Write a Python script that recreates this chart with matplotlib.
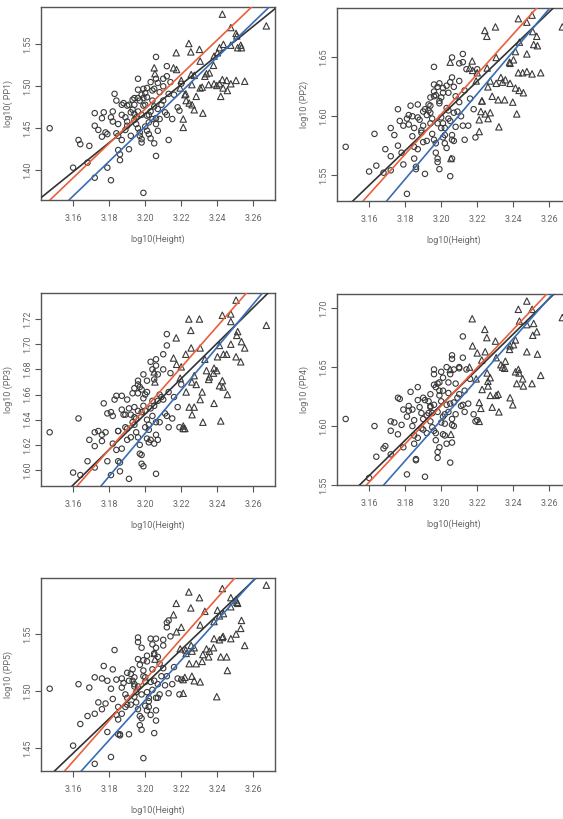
import numpy as np
import matplotlib.pyplot as plt

plt.rcParams['font.family'] = ['Liberation Sans Narrow', 'Roboto', 'DejaVu Sans']

# heights shared by all five panels (log10 scale)
circle_height = [
    3.147, 3.160, 3.163, 3.164, 3.168, 3.169, 3.172, 3.172, 3.172, 3.174,
    3.176, 3.177, 3.176, 3.178, 3.179, 3.179, 3.181, 3.181, 3.182, 3.183,
    3.184, 3.185, 3.184, 3.185, 3.185, 3.186, 3.186, 3.187, 3.187, 3.188,
    3.189, 3.190, 3.190, 3.190, 3.191, 3.192, 3.193, 3.193, 3.194, 3.194,
    3.194, 3.195, 3.196, 3.196, 3.196, 3.196, 3.197, 3.197, 3.198, 3.198,
    3.198, 3.198, 3.199, 3.199, 3.199, 3.200, 3.200, 3.201, 3.201, 3.202,
    3.202, 3.202, 3.203, 3.203, 3.204, 3.204, 3.205, 3.205, 3.206, 3.206,
    3.206, 3.206, 3.206, 3.207, 3.207, 3.207, 3.208, 3.209, 3.210, 3.210,
    3.211, 3.212, 3.212, 3.212, 3.213, 3.214, 3.215, 3.216, 3.218, 3.219,
    3.220, 3.201, 3.192, 3.195, 3.200, 3.203, 3.204, 3.199, 3.189, 3.187,
    3.182, 3.210, 3.213, 3.197, 3.194, 3.208, 3.201, 3.196, 3.205, 3.191,
]
triangle_height = [
    3.2428, 3.2672, 3.2475, 3.2504, 3.2508, 3.2530, 3.2534, 3.2513, 3.2475, 3.2434,
    3.2412, 3.2401, 3.2382, 3.2242, 3.2253, 3.2301, 3.2305, 3.2172, 3.2157, 3.2174,
    3.2050, 3.2054, 3.2200, 3.2194, 3.2225, 3.2220, 3.2255, 3.2272, 3.2259, 3.2283,
    3.2305, 3.2320, 3.2260, 3.2272, 3.2211, 3.2211, 3.2331, 3.2340, 3.2356, 3.2379,
    3.2428, 3.2412, 3.2432, 3.2452, 3.2456, 3.2475, 3.2504, 3.2552, 3.2382, 3.2397,
    3.2419, 3.2352, 3.2316, 3.2227, 3.2244,
]

circle_pp1 = [
    1.450, 1.403, 1.436, 1.431, 1.409, 1.429, 1.468, 1.453, 1.391, 1.448,
    1.462, 1.469, 1.440, 1.445, 1.443, 1.403, 1.463, 1.388, 1.458, 1.491,
    1.483, 1.455, 1.444, 1.441, 1.424, 1.419, 1.412, 1.478, 1.466, 1.480,
    1.463, 1.477, 1.458, 1.453, 1.425, 1.469, 1.472, 1.484, 1.486, 1.478,
    1.460, 1.455, 1.509, 1.496, 1.450, 1.470, 1.445, 1.441, 1.490, 1.466,
    1.437, 1.433, 1.373, 1.497, 1.486, 1.492, 1.478, 1.465, 1.447, 1.466,
    1.457, 1.443, 1.438, 1.505, 1.495, 1.483, 1.476, 1.432, 1.535, 1.509,
    1.462, 1.455, 1.417, 1.504, 1.473, 1.447, 1.493, 1.478, 1.500, 1.509,
    1.469, 1.524, 1.512, 1.466, 1.436, 1.505, 1.461, 1.490, 1.475, 1.471,
    1.503, 1.487, 1.441, 1.463, 1.452, 1.470, 1.461, 1.477, 1.448, 1.436,
    1.470, 1.483, 1.491, 1.483, 1.467, 1.461, 1.498, 1.486, 1.497, 1.478,
]
circle_pp2 = [
    1.574, 1.553, 1.585, 1.558, 1.552, 1.572, 1.590, 1.566, 1.554, 1.584,
    1.606, 1.596, 1.575, 1.569, 1.592, 1.559, 1.598, 1.534, 1.593, 1.609,
    1.600, 1.590, 1.583, 1.574, 1.564, 1.557, 1.555, 1.610, 1.599, 1.597,
    1.586, 1.604, 1.592, 1.578, 1.551, 1.601, 1.610, 1.605, 1.616, 1.609,
    1.594, 1.585, 1.642, 1.627, 1.580, 1.617, 1.577, 1.569, 1.625, 1.594,
    1.564, 1.561, 1.555, 1.628, 1.613, 1.616, 1.599, 1.594, 1.582, 1.590,
    1.584, 1.577, 1.573, 1.626, 1.620, 1.605, 1.596, 1.549, 1.650, 1.633,
    1.584, 1.580, 1.564, 1.625, 1.603, 1.579, 1.617, 1.604, 1.630, 1.645,
    1.600, 1.653, 1.646, 1.592, 1.580, 1.640, 1.592, 1.615, 1.606, 1.582,
    1.640, 1.620, 1.579, 1.598, 1.590, 1.607, 1.598, 1.611, 1.588, 1.572,
    1.601, 1.612, 1.622, 1.618, 1.603, 1.591, 1.624, 1.621, 1.629, 1.606,
]
circle_pp3 = [
    1.630, 1.598, 1.641, 1.596, 1.607, 1.624, 1.630, 1.619, 1.602, 1.631,
    1.628, 1.653, 1.623, 1.630, 1.645, 1.607, 1.646, 1.596, 1.621, 1.656,
    1.659, 1.631, 1.616, 1.631, 1.607, 1.606, 1.599, 1.659, 1.648, 1.644,
    1.644, 1.656, 1.633, 1.624, 1.593, 1.644, 1.638, 1.661, 1.665, 1.650,
    1.636, 1.630, 1.668, 1.671, 1.626, 1.647, 1.620, 1.613, 1.664, 1.646,
    1.612, 1.605, 1.603, 1.676, 1.657, 1.660, 1.647, 1.640, 1.625, 1.636,
    1.632, 1.622, 1.624, 1.686, 1.680, 1.655, 1.651, 1.621, 1.688, 1.683,
    1.638, 1.628, 1.597, 1.676, 1.655, 1.624, 1.660, 1.658, 1.680, 1.692,
    1.645, 1.708, 1.699, 1.643, 1.634, 1.677, 1.641, 1.658, 1.650, 1.634,
    1.668, 1.662, 1.626, 1.641, 1.634, 1.649, 1.643, 1.651, 1.634, 1.617,
    1.643, 1.656, 1.662, 1.666, 1.642, 1.638, 1.671, 1.661, 1.672, 1.649,
]
circle_pp4 = [
    1.606, 1.556, 1.600, 1.574, 1.581, 1.583, 1.604, 1.596, 1.576, 1.603,
    1.624, 1.623, 1.593, 1.601, 1.614, 1.582, 1.608, 1.559, 1.613, 1.629,
    1.614, 1.605, 1.600, 1.592, 1.585, 1.571, 1.572, 1.633, 1.622, 1.616,
    1.611, 1.624, 1.606, 1.597, 1.557, 1.609, 1.611, 1.621, 1.627, 1.616,
    1.604, 1.599, 1.648, 1.644, 1.596, 1.618, 1.594, 1.588, 1.636, 1.612,
    1.578, 1.573, 1.582, 1.637, 1.626, 1.646, 1.621, 1.608, 1.593, 1.610,
    1.602, 1.592, 1.585, 1.650, 1.637, 1.628, 1.619, 1.569, 1.660, 1.657,
    1.606, 1.601, 1.586, 1.648, 1.620, 1.600, 1.636, 1.624, 1.649, 1.650,
    1.617, 1.676, 1.658, 1.618, 1.612, 1.648, 1.619, 1.640, 1.610, 1.604,
    1.605, 1.630, 1.594, 1.611, 1.603, 1.618, 1.612, 1.630, 1.598, 1.590,
    1.617, 1.627, 1.630, 1.633, 1.617, 1.610, 1.641, 1.635, 1.644, 1.622,
]
circle_pp5 = [
    1.502, 1.452, 1.506, 1.471, 1.478, 1.503, 1.512, 1.480, 1.436, 1.490,
    1.511, 1.522, 1.484, 1.489, 1.509, 1.464, 1.502, 1.442, 1.493, 1.536,
    1.510, 1.486, 1.479, 1.475, 1.462, 1.462, 1.461, 1.511, 1.503, 1.507,
    1.497, 1.516, 1.494, 1.488, 1.462, 1.515, 1.519, 1.509, 1.512, 1.506,
    1.495, 1.490, 1.547, 1.543, 1.484, 1.504, 1.478, 1.470, 1.538, 1.497,
    1.466, 1.476, 1.441, 1.527, 1.518, 1.512, 1.508, 1.499, 1.483, 1.494,
    1.491, 1.486, 1.479, 1.546, 1.541, 1.519, 1.509, 1.463, 1.546, 1.538,
    1.494, 1.483, 1.474, 1.530, 1.506, 1.494, 1.524, 1.513, 1.545, 1.540,
    1.505, 1.556, 1.560, 1.513, 1.498, 1.548, 1.506, 1.521, 1.511, 1.497,
    1.510, 1.526, 1.488, 1.499, 1.487, 1.508, 1.501, 1.513, 1.486, 1.480,
    1.519, 1.520, 1.562, 1.523, 1.504, 1.497, 1.531, 1.528, 1.533, 1.509,
]

triangle_pp1 = [
    1.586, 1.572, 1.570, 1.563, 1.560, 1.549, 1.546, 1.546, 1.549, 1.550,
    1.546, 1.540, 1.536, 1.551, 1.541, 1.544, 1.530, 1.540, 1.522, 1.520,
    1.522, 1.515, 1.507, 1.498, 1.491, 1.490, 1.514, 1.513, 1.502, 1.488,
    1.498, 1.468, 1.478, 1.472, 1.461, 1.451, 1.512, 1.515, 1.516, 1.525,
    1.508, 1.503, 1.498, 1.507, 1.495, 1.503, 1.507, 1.506, 1.503, 1.501,
    1.488, 1.502, 1.499, 1.483, 1.480,
]
triangle_pp2 = [
    1.683, 1.676, 1.680, 1.686, 1.672, 1.668, 1.660, 1.661, 1.653, 1.663,
    1.655, 1.648, 1.645, 1.673, 1.668, 1.676, 1.650, 1.647, 1.641, 1.639,
    1.646, 1.564, 1.637, 1.630, 1.613, 1.604, 1.641, 1.630, 1.625, 1.617,
    1.628, 1.591, 1.598, 1.603, 1.587, 1.597, 1.633, 1.629, 1.631, 1.646,
    1.637, 1.624, 1.622, 1.637, 1.620, 1.638, 1.636, 1.637, 1.628, 1.612,
    1.602, 1.614, 1.614, 1.613, 1.602,
]
triangle_pp3 = [
    1.723, 1.715, 1.724, 1.735, 1.707, 1.686, 1.702, 1.710, 1.718, 1.692,
    1.699, 1.690, 1.681, 1.720, 1.711, 1.720, 1.697, 1.705, 1.689, 1.684,
    1.678, 1.670, 1.682, 1.673, 1.692, 1.633, 1.697, 1.675, 1.670, 1.668,
    1.656, 1.638, 1.644, 1.650, 1.633, 1.635, 1.688, 1.679, 1.674, 1.677,
    1.671, 1.667, 1.666, 1.692, 1.660, 1.700, 1.690, 1.697, 1.653, 1.679,
    1.639, 1.672, 1.662, 1.662, 1.650,
]
triangle_pp4 = [
    1.699, 1.692, 1.706, 1.699, 1.677, 1.680, 1.661, 1.687, 1.686, 1.689,
    1.673, 1.669, 1.668, 1.682, 1.675, 1.672, 1.658, 1.691, 1.650, 1.668,
    1.648, 1.593, 1.662, 1.640, 1.656, 1.615, 1.645, 1.641, 1.638, 1.616,
    1.626, 1.612, 1.634, 1.626, 1.604, 1.620, 1.652, 1.650, 1.655, 1.665,
    1.648, 1.646, 1.645, 1.640, 1.634, 1.663, 1.636, 1.643, 1.624, 1.618,
    1.636, 1.649, 1.627, 1.631, 1.663,
]
triangle_pp5 = [
    1.590, 1.593, 1.582, 1.580, 1.578, 1.555, 1.562, 1.577, 1.574, 1.568,
    1.566, 1.571, 1.561, 1.587, 1.573, 1.582, 1.558, 1.577, 1.567, 1.552,
    1.533, 1.528, 1.556, 1.537, 1.536, 1.512, 1.540, 1.538, 1.513, 1.524,
    1.508, 1.532, 1.535, 1.509, 1.510, 1.498, 1.570, 1.537, 1.535, 1.538,
    1.547, 1.545, 1.548, 1.530, 1.518, 1.546, 1.550, 1.540, 1.546, 1.495,
    1.530, 1.530, 1.526, 1.533, 1.524,
]

# fitted lines: value at log10(Height) = 3.20 and slope, one entry per panel
black_mid = [1.4675, 1.6003, 1.6445, 1.6180, 1.5060]
black_slope = [1.735, 1.476, 1.410, 1.502, 1.517]
red_mid = [1.4731, 1.6018, 1.6490, 1.6172, 1.5100]
red_slope = [2.056, 1.704, 1.632, 1.619, 1.797]
blue_mid = [1.4520, 1.5828, 1.6293, 1.6051, 1.4920]
blue_slope = [2.071, 1.813, 1.712, 1.727, 1.756]

y_labels = ["log10( PP1)", "log10 (PP2)", "log10 (PP3)", "log10 (PP4)", "log10 (PP5)"]
x_ticks = [3.16, 3.18, 3.20, 3.22, 3.24, 3.26]
y_ticks = [
    [1.40, 1.45, 1.50, 1.55],
    [1.55, 1.60, 1.65],
    [1.60, 1.62, 1.64, 1.66, 1.68, 1.70, 1.72],
    [1.55, 1.60, 1.65, 1.70],
    [1.45, 1.50, 1.55],
]

circle_series = [circle_pp1, circle_pp2, circle_pp3, circle_pp4, circle_pp5]
triangle_series = [triangle_pp1, triangle_pp2, triangle_pp3, triangle_pp4, triangle_pp5]

W, H = 563, 819
# axes boxes in pixels: left, top, width, height
boxes = [(41, 7, 234, 193), (337, 8, 234, 193),
         (41, 293, 234, 193), (337, 294, 234, 191),
         (41, 578, 234, 193)]

TXT = '#666666'
PT = '#3a3a3a'

fig = plt.figure(figsize=(W / 100, H / 100), dpi=100)

for i in range(5):
    l, t, w, h = boxes[i]
    ax = fig.add_axes([l / W, 1 - (t + h) / H, w / W, h / H])

    cx = np.array(circle_height)
    tx = np.array(triangle_height)
    cy = np.array(circle_series[i])
    ty = np.array(triangle_series[i])

    ax.scatter(cx, cy, s=15, marker='o', facecolors='none',
               edgecolors=PT, linewidths=0.8, zorder=3)
    ax.scatter(tx, ty, s=21, marker='^', facecolors='none',
               edgecolors=PT, linewidths=0.8, zorder=3)

    # R style 4% padding around the data
    allx = np.concatenate([cx, tx])
    ally = np.concatenate([cy, ty])
    xr = allx.max() - allx.min()
    yr = ally.max() - ally.min()
    ax.set_xlim(allx.min() - 0.04 * xr, allx.max() + 0.04 * xr)
    ax.set_ylim(ally.min() - 0.04 * yr, ally.max() + 0.04 * yr)

    ax.axline((3.20, black_mid[i]), slope=black_slope[i], color='#333333', lw=1.2, zorder=4)
    ax.axline((3.20, red_mid[i]), slope=red_slope[i], color='#e8603c', lw=1.2, zorder=4)
    ax.axline((3.20, blue_mid[i]), slope=blue_slope[i], color='#3a6cb4', lw=1.2, zorder=4)

    ax.set_xticks(x_ticks)
    ax.set_xticklabels([f"{v:.2f}" for v in x_ticks])
    ax.set_yticks(y_ticks[i])
    ax.set_yticklabels([f"{v:.2f}" for v in y_ticks[i]], rotation=90, va='center')

    ax.tick_params(length=4, width=0.8, color='#555555', labelcolor=TXT, labelsize=6.5)
    ax.tick_params(axis='x', pad=6)
    ax.tick_params(axis='y', pad=2.5)
    for sp in ax.spines.values():
        sp.set_color('#555555')
        sp.set_linewidth(1.0)

    ax.set_xlabel("log10(Height)", color=TXT, fontsize=6.5, labelpad=8)
    ax.set_ylabel(y_labels[i], color=TXT, fontsize=6.5, labelpad=7)

fig.savefig("out.png", dpi=100)
